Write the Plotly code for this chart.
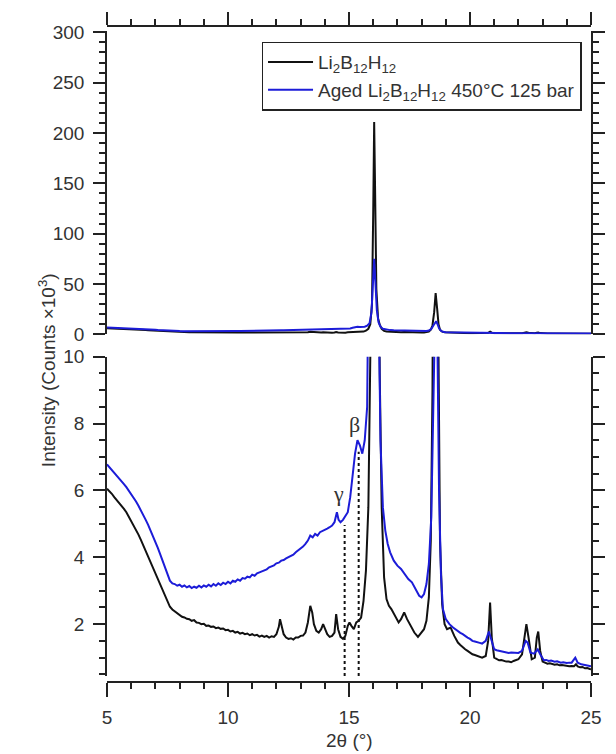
import plotly.graph_objects as go

# ---------------- data ----------------
two_theta_black = [5.0, 5.1, 5.2, 5.3, 5.4, 5.5, 5.6, 5.7, 5.8, 5.9, 6.0, 6.1, 6.2, 6.3, 6.4, 6.5, 6.6,
                   6.7, 6.8, 6.9, 7.0, 7.1, 7.2, 7.3, 7.4, 7.5, 7.6, 7.7, 7.8, 7.9, 8.0, 8.1, 8.2, 8.3,
                   8.4, 8.5, 8.6, 8.7, 8.8, 8.9, 9.0, 9.1, 9.2, 9.3, 9.4, 9.5, 9.6, 9.7, 9.8, 9.9, 10.0,
                   10.1, 10.2, 10.3, 10.4, 10.5, 10.6, 10.7, 10.8, 10.9, 11.0, 11.1, 11.2, 11.3, 11.4,
                   11.5, 11.6, 11.7, 11.8, 11.9, 12.0, 12.1, 12.15, 12.22, 12.3, 12.4, 12.5, 12.6, 12.7,
                   12.8, 12.9, 13.0, 13.1, 13.2, 13.3, 13.4, 13.48, 13.55, 13.65, 13.75, 13.85, 13.93,
                   14.0, 14.1, 14.2, 14.3, 14.4, 14.47, 14.55, 14.65, 14.75, 14.85, 14.95, 15.02, 15.1,
                   15.2, 15.3, 15.4, 15.5, 15.6, 15.7, 15.8, 15.88, 15.95, 16.0, 16.04, 16.08, 16.13,
                   16.2, 16.27, 16.35, 16.45, 16.55, 16.65, 16.75, 16.85, 16.95, 17.05, 17.15, 17.28,
                   17.4, 17.55, 17.7, 17.85, 18.0, 18.1, 18.2, 18.3, 18.38, 18.45, 18.52, 18.58, 18.64,
                   18.7, 18.76, 18.85, 18.95, 19.05, 19.2, 19.35, 19.5, 19.6, 19.7, 19.8, 19.9, 20.0,
                   20.1, 20.2, 20.3, 20.4, 20.5, 20.65, 20.75, 20.83, 20.9, 21.0, 21.1, 21.2, 21.3, 21.4,
                   21.5, 21.6, 21.7, 21.8, 21.9, 22.0, 22.15, 22.25, 22.33, 22.42, 22.55, 22.68, 22.76,
                   22.82, 22.9, 23.0, 23.1, 23.2, 23.3, 23.4, 23.5, 23.6, 23.7, 23.8, 23.9, 24.0, 24.1,
                   24.2, 24.3, 24.38, 24.45, 24.55, 24.65, 24.75, 24.85, 24.95, 25.0]
intensity_black = [6.05, 5.98, 5.9, 5.8, 5.72, 5.62, 5.55, 5.45, 5.35, 5.22, 5.1, 4.97, 4.85, 4.68, 4.52,
                   4.35, 4.2, 4.02, 3.88, 3.7, 3.55, 3.38, 3.18, 3.0, 2.82, 2.65, 2.52, 2.44, 2.38, 2.32,
                   2.28, 2.22, 2.2, 2.16, 2.15, 2.1, 2.12, 2.05, 2.04, 2.0, 2.01, 1.95, 1.96, 1.92, 1.93,
                   1.88, 1.9, 1.86, 1.87, 1.82, 1.83, 1.78, 1.8, 1.75, 1.77, 1.72, 1.74, 1.7, 1.72, 1.67,
                   1.7, 1.66, 1.68, 1.63, 1.66, 1.62, 1.65, 1.6, 1.64, 1.62, 1.7, 1.92, 2.15, 1.95, 1.7,
                   1.6, 1.56, 1.58, 1.54, 1.6, 1.6, 1.65, 1.66, 1.75, 2.05, 2.55, 2.35, 2.0, 1.8, 1.75,
                   1.85, 2.0, 1.85, 1.7, 1.62, 1.65, 1.75, 2.3, 1.85, 1.62, 1.56, 1.65, 1.95, 2.05, 1.95,
                   1.85, 2.05, 2.1, 2.2, 2.7, 3.6, 5.5, 10.0, 30.0, 120.0, 211.0, 140.0, 45.0,
                   16.0, 9.5, 5.5, 3.4, 2.75, 2.55, 2.45, 2.32, 2.2, 2.05, 2.15, 2.35,
                   2.15, 1.95, 1.75, 1.62, 1.75, 1.85, 2.1, 2.8, 4.5, 9.0, 22.0, 41.0, 26.0,
                   10.0, 4.5, 2.6, 2.0, 1.85, 1.9, 1.65, 1.45, 1.38, 1.3, 1.25, 1.2, 1.15,
                   1.1, 1.08, 1.05, 1.02, 1.0, 1.05, 1.5, 2.65, 1.6, 1.0, 0.95, 0.92, 0.93, 0.9,
                   0.88, 0.88, 0.86, 0.9, 0.92, 0.95, 1.1, 1.6, 2.0, 1.6, 0.95, 1.0, 1.6,
                   1.78, 1.2, 0.88, 0.84, 0.82, 0.83, 0.8, 0.79, 0.8, 0.77, 0.78, 0.76, 0.76, 0.74,
                   0.75, 0.74, 0.8, 0.74, 0.71, 0.72, 0.68, 0.69, 0.66, 0.65]

two_theta_blue = [5.0, 5.1, 5.2, 5.3, 5.4, 5.5, 5.6, 5.7, 5.8, 5.9, 6.0, 6.1, 6.2, 6.3, 6.4, 6.5, 6.6,
                  6.7, 6.8, 6.9, 7.0, 7.1, 7.2, 7.3, 7.4, 7.5, 7.6, 7.7, 7.8, 7.9, 8.0, 8.1, 8.2, 8.3,
                  8.4, 8.5, 8.6, 8.7, 8.8, 8.9, 9.0, 9.1, 9.2, 9.3, 9.4, 9.5, 9.6, 9.7, 9.8, 9.9, 10.0,
                  10.1, 10.2, 10.3, 10.4, 10.5, 10.6, 10.7, 10.8, 10.9, 11.0, 11.1, 11.2, 11.3, 11.4,
                  11.5, 11.6, 11.7, 11.8, 11.9, 12.0, 12.1, 12.2, 12.3, 12.4, 12.5, 12.6, 12.7, 12.8,
                  12.9, 13.0, 13.1, 13.2, 13.3, 13.4, 13.5, 13.6, 13.7, 13.8, 13.9, 14.0, 14.1, 14.2,
                  14.3, 14.4, 14.5, 14.57, 14.65, 14.75, 14.85, 14.95, 15.05, 15.15, 15.25, 15.35,
                  15.45, 15.55, 15.65, 15.75, 15.85, 15.93, 15.99, 16.04, 16.09, 16.15, 16.22, 16.3,
                  16.4, 16.5, 16.6, 16.7, 16.85, 17.0, 17.15, 17.3, 17.45, 17.6, 17.75, 17.9, 18.0,
                  18.1, 18.2, 18.3, 18.4, 18.48, 18.55, 18.6, 18.66, 18.72, 18.8, 18.88, 19.0, 19.15,
                  19.3, 19.5, 19.6, 19.7, 19.8, 19.9, 20.0, 20.1, 20.2, 20.3, 20.4, 20.5, 20.65, 20.78,
                  20.88, 21.0, 21.1, 21.2, 21.3, 21.4, 21.5, 21.6, 21.7, 21.8, 21.9, 22.0, 22.15, 22.3,
                  22.38, 22.5, 22.65, 22.8, 22.9, 23.05, 23.15, 23.25, 23.35, 23.5, 23.6, 23.75, 23.85,
                  24.0, 24.1, 24.2, 24.35, 24.45, 24.6, 24.7, 24.8, 24.9, 25.0]
intensity_blue = [6.78, 6.7, 6.62, 6.54, 6.45, 6.37, 6.28, 6.19, 6.1, 6.0, 5.9, 5.79, 5.67, 5.54, 5.41,
                  5.27, 5.12, 4.97, 4.81, 4.64, 4.46, 4.28, 4.09, 3.89, 3.69, 3.49, 3.3, 3.22, 3.2, 3.15,
                  3.18, 3.12, 3.16, 3.1, 3.14, 3.08, 3.12, 3.09, 3.15, 3.1, 3.16, 3.12, 3.18, 3.13,
                  3.2, 3.15, 3.22, 3.17, 3.24, 3.2, 3.27, 3.22, 3.3, 3.27, 3.34, 3.3, 3.38, 3.36,
                  3.42, 3.4, 3.48, 3.45, 3.52, 3.55, 3.58, 3.62, 3.64, 3.7, 3.73, 3.76, 3.82, 3.84,
                  3.9, 3.92, 3.97, 4.0, 4.05, 4.08, 4.15, 4.2, 4.25, 4.32, 4.4, 4.5, 4.65, 4.6, 4.7,
                  4.65, 4.75, 4.78, 4.82, 4.86, 4.9, 4.95, 5.05, 5.35, 5.12, 5.05, 5.12, 5.22, 5.35,
                  5.8, 6.5, 7.1, 7.5, 7.35, 7.1, 7.5, 8.5, 11.0, 22.0, 50.0, 75.0, 52.0, 24.0, 12.0,
                  7.5, 5.5, 4.8, 4.4, 4.15, 3.9, 3.75, 3.65, 3.5, 3.35, 3.25, 3.05, 2.85, 2.8, 2.9,
                  3.2, 3.8, 5.2, 8.5, 12.0, 13.0, 10.0, 6.0, 3.5, 2.45, 2.15, 2.0, 1.9, 1.78, 1.74,
                  1.7, 1.64, 1.6, 1.56, 1.5, 1.48, 1.45, 1.44, 1.42, 1.5, 1.78, 1.55, 1.25, 1.22, 1.2,
                  1.19, 1.17, 1.16, 1.14, 1.15, 1.14, 1.13, 1.14, 1.2, 1.5, 1.45, 1.15, 1.12, 1.25,
                  1.1, 0.92, 0.93, 0.9, 0.91, 0.88, 0.89, 0.85, 0.86, 0.84, 0.85, 0.85, 1.0, 0.85,
                  0.8, 0.79, 0.77, 0.76, 0.74]

series_names = ["Li<sub>2</sub>B<sub>12</sub>H<sub>12</sub>",
                "Aged Li<sub>2</sub>B<sub>12</sub>H<sub>12</sub> 450°C 125 bar"]

phase_labels = ["γ", "β"]
phase_line_x = [14.82, 15.40]
phase_line_top = [4.97, 7.16]
phase_label_x = [14.57, 15.21]
phase_label_y = [5.91, 7.98]

x_range = [5, 25]
top_y_range = [0, 301.8]
bottom_y_range = [0.45, 10]

# ---------------- styling ----------------
BLACK = "#111111"
BLUE = "#1c1cd8"
AXIS = "#222222"
TXT = "#333333"
FONT = "Liberation Sans, Arial, sans-serif"
FS = 19

fig = go.Figure()

for xs, ys, name, col in [(two_theta_black, intensity_black, series_names[0], BLACK),
                          (two_theta_blue, intensity_blue, series_names[1], BLUE)]:
    fig.add_trace(go.Scatter(x=xs, y=ys, mode="lines", name=name, legendgroup=name,
                             showlegend=False, line=dict(color=col, width=2),
                             xaxis="x", yaxis="y"))
    fig.add_trace(go.Scatter(x=xs, y=ys, mode="lines", name=name, legendgroup=name,
                             showlegend=True, line=dict(color=col, width=2),
                             xaxis="x2", yaxis="y2"))

for lx, ltop in zip(phase_line_x, phase_line_top):
    fig.add_trace(go.Scatter(x=[lx, lx], y=[bottom_y_range[0], ltop], mode="lines",
                             showlegend=False, line=dict(color=BLACK, width=2, dash="dot"),
                             xaxis="x", yaxis="y"))

for lab, lx, ly in zip(phase_labels, phase_label_x, phase_label_y):
    fig.add_annotation(x=lx, y=ly, xref="x", yref="y", text=lab, showarrow=False,
                       font=dict(family="Liberation Serif, Times New Roman, serif", size=22, color=TXT))

common_tick = dict(showline=True, linecolor=AXIS, linewidth=1.5, ticks="outside",
                   tickcolor=AXIS, tickwidth=1.5, showgrid=False, zeroline=False,
                   tickfont=dict(family=FONT, size=FS, color=TXT))

paper_h = 754 - 26 - 72

fig.update_layout(
    width=616, height=754,
    margin=dict(l=107, r=11, t=26, b=72),
    plot_bgcolor="white", paper_bgcolor="white",
    font=dict(family=FONT, size=FS, color=TXT),
    xaxis=dict(range=x_range, domain=[0, 1], anchor="free", position=0, side="bottom",
               dtick=5, tick0=5, ticklen=14, ticklabelstandoff=4,
               minor=dict(dtick=1, ticklen=6, ticks="outside", tickcolor=AXIS, tickwidth=1.5,
                          showgrid=False),
               **common_tick),
    xaxis2=dict(range=x_range, domain=[0, 1], anchor="free", position=1, side="top",
                matches="x", dtick=5, tick0=5, ticklen=13, showticklabels=False,
                minor=dict(dtick=1, ticklen=6, ticks="outside", tickcolor=AXIS, tickwidth=1.5,
                           showgrid=False),
                **common_tick),
    yaxis=dict(range=bottom_y_range, domain=[(682 - 676) / paper_h, (682 - 356.7) / paper_h],
               anchor="x", mirror="ticks", dtick=2, tick0=0, ticklen=12, ticklabelstandoff=5,
               minor=dict(dtick=0.5, ticklen=6, ticks="outside", tickcolor=AXIS, tickwidth=1.5,
                          showgrid=False),
               **common_tick),
    yaxis2=dict(range=top_y_range, domain=[(682 - 334.3) / paper_h, (682 - 30.5) / paper_h],
                anchor="x2", mirror="ticks", dtick=50, tick0=0, ticklen=12, ticklabelstandoff=5,
                minor=dict(dtick=10, ticklen=6, ticks="outside", tickcolor=AXIS, tickwidth=1.5,
                           showgrid=False),
                **common_tick),
    legend=dict(x=(266 - 107) / 498, y=(682 - 41.7) / paper_h, xanchor="left", yanchor="top",
                bordercolor=AXIS, borderwidth=1.5, bgcolor="white", itemwidth=45,
                font=dict(family=FONT, size=FS, color=TXT), tracegroupgap=0),
    showlegend=True,
)

fig.add_annotation(text="Intensity (Counts ×10<sup>3</sup>)", xref="paper", yref="paper",
                   x=(31 - 107) / 498, y=(682 - 370) / paper_h, textangle=-90,
                   showarrow=False, font=dict(family=FONT, size=FS, color=TXT))
fig.add_annotation(text="2θ (°)", xref="paper", yref="paper",
                   x=(356 - 107) / 498, y=(682 - 740) / paper_h, yanchor="middle",
                   showarrow=False, font=dict(family=FONT, size=FS, color=TXT))

fig.write_html("out.html")
